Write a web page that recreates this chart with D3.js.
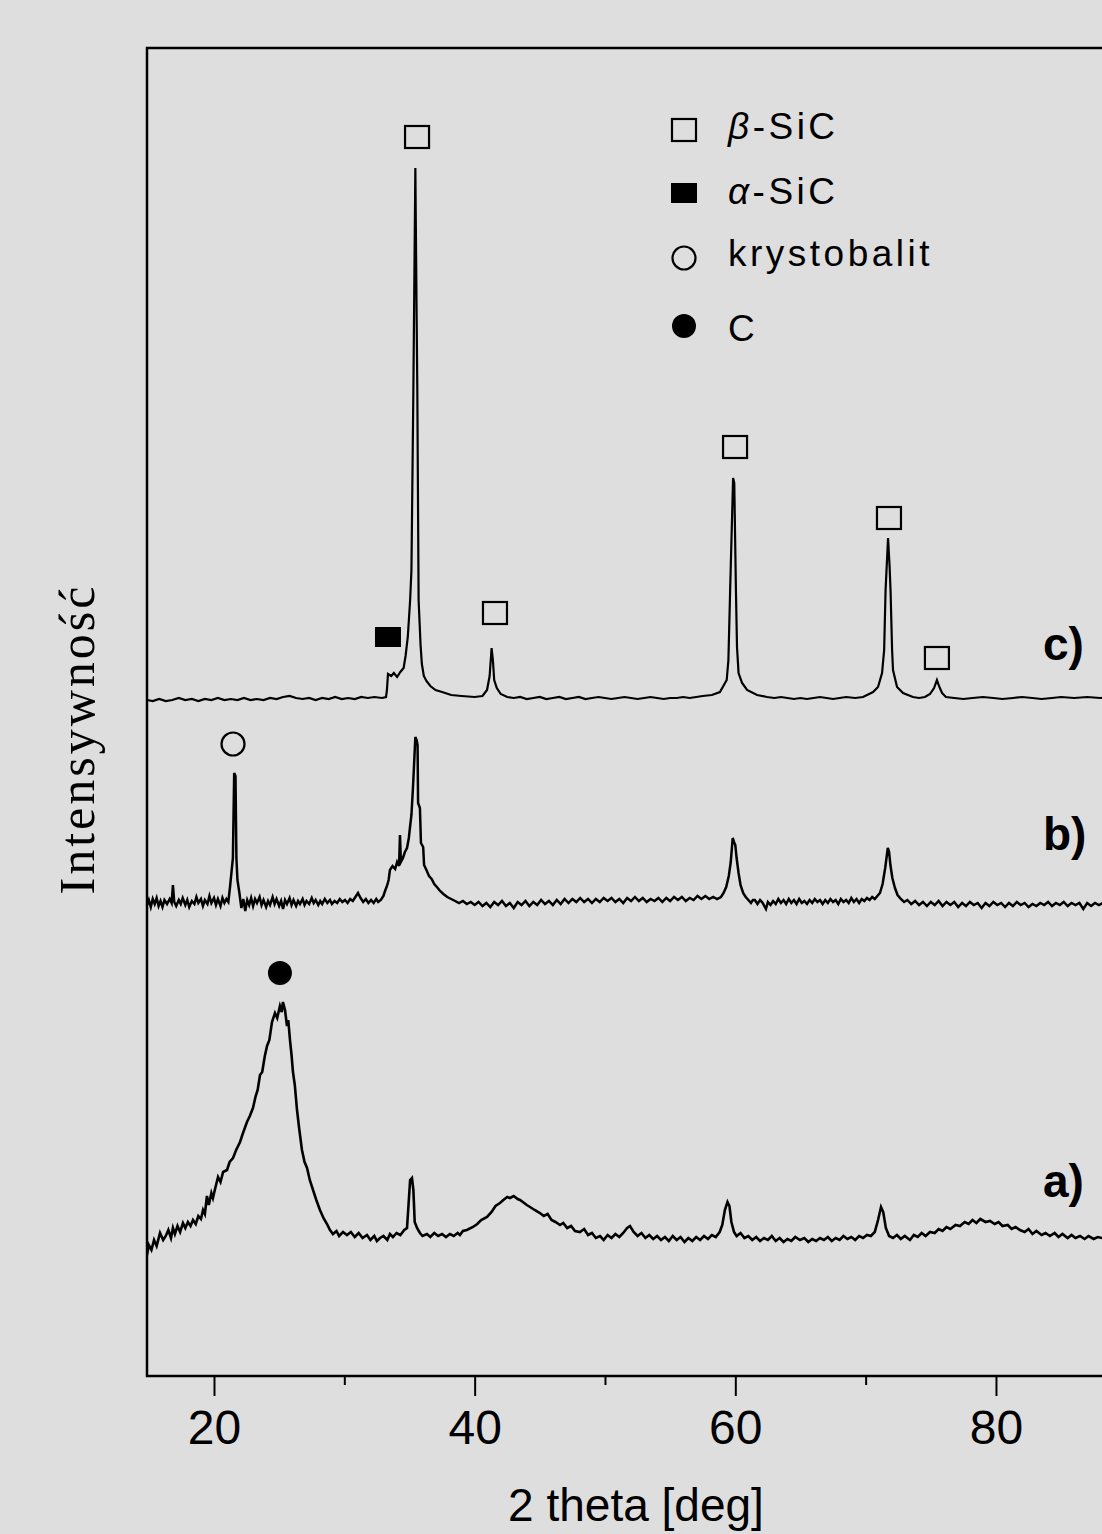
<!DOCTYPE html>
<html><head><meta charset="utf-8">
<script src="https://cdn.jsdelivr.net/npm/d3@7"></script>
<style>html,body{margin:0;padding:0;background:#dedede;}svg{display:block;}</style>
</head><body>
<svg id="chart" width="1102" height="1534"></svg>
<script>
// ---------- data ----------
const xDomain = [14.86, 90];
const yDomain = [0, 1328];
const xTicksMajor = [20, 40, 60, 80];
const xTicksMinor = [30, 50, 70];
const xLabel = "2 theta [deg]";
const yLabel = "Intensywność";
const seriesNames = ["a)", "b)", "c)"];

// pattern a) (2θ, intensity a.u.)
const seriesA = [
[14.86,121],[15.0,131],[15.2,126],[15.4,136],[15.6,130],[15.86,143],[16.1,136],[16.3,140],[16.5,146],[16.7,138],
[16.85,148],[17.0,142],[17.2,150],[17.4,144],[17.62,153],[17.8,148],[18.0,154],[18.2,150],[18.39,156],[18.6,152],
[18.8,160],[19.0,157],[19.16,166],[19.3,162],[19.46,180],[19.6,171],[19.8,183],[19.92,178],[20.1,188],[20.31,199],
[20.5,194],[20.7,204],[21.0,206],[21.2,214],[21.46,218],[21.7,226],[22.0,234],[22.2,242],[22.53,254],[22.75,260],
[22.99,268],[23.2,280],[23.35,286],[23.53,301],[23.7,304],[23.9,320],[24.07,330],[24.25,336],[24.45,354],[24.68,363],
[24.85,358],[25.06,370],[25.2,364],[25.29,374],[25.45,366],[25.6,350],[25.7,356],[25.83,336],[25.95,321],[26.06,304],
[26.2,291],[26.37,266],[26.55,246],[26.75,226],[26.95,214],[27.14,208],[27.35,196],[27.6,186],[27.85,176],[28.13,166],
[28.4,158],[28.67,152],[28.9,146],[29.13,142],[29.4,145],[29.6,140],[29.9,144],[30.2,141],[30.5,144],[30.8,139],
[31.1,143],[31.4,138],[31.74,141],[32.0,136],[32.3,140],[32.5,135],[32.74,138],[33.0,140],[33.3,136],[33.5,142],
[33.73,139],[34.0,143],[34.3,141],[34.6,146],[34.81,148],[34.95,176],[35.05,196],[35.19,198],[35.3,186],[35.4,154],
[35.58,148],[35.8,143],[36.0,140],[36.34,142],[36.6,139],[36.9,143],[37.2,140],[37.5,142],[37.8,139],[38.1,142],
[38.4,140],[38.7,143],[38.87,141],[39.1,145],[39.4,146],[39.87,149],[40.2,152],[40.5,156],[40.95,159],[41.3,164],
[41.6,170],[41.94,173],[42.2,176],[42.5,179],[42.71,178],[43.0,180],[43.3,177],[43.48,176],[43.8,173],[44.0,171],
[44.25,169],[44.6,166],[45.01,163],[45.3,160],[45.6,162],[45.9,156],[46.2,154],[46.55,151],[46.8,153],[47.1,148],
[47.4,150],[47.7,145],[48.08,144],[48.4,147],[48.7,141],[49.0,143],[49.3,138],[49.62,140],[49.9,136],[50.2,141],
[50.5,138],[50.8,142],[51.1,139],[51.4,143],[51.7,148],[51.92,150],[52.2,144],[52.5,140],[52.8,143],[53.1,138],
[53.4,141],[53.7,137],[54.0,140],[54.3,136],[54.6,139],[54.9,135],[55.2,140],[55.5,136],[55.8,139],[56.1,134],
[56.4,138],[56.7,135],[57.0,139],[57.3,136],[57.6,140],[57.9,137],[58.2,141],[58.5,139],[58.8,144],[59.0,151],
[59.2,166],[59.4,174],[59.55,170],[59.7,154],[59.9,144],[60.1,140],[60.4,143],[60.7,138],[61.0,140],[61.3,136],
[61.6,139],[61.9,135],[62.2,138],[62.5,136],[62.8,140],[63.1,135],[63.4,138],[63.7,134],[64.0,137],[64.3,135],
[64.6,139],[64.96,136],[65.3,138],[65.6,134],[65.9,137],[66.2,135],[66.5,138],[66.8,136],[67.1,139],[67.4,135],
[67.7,138],[68.0,136],[68.3,140],[68.6,137],[68.9,139],[69.2,136],[69.5,140],[69.8,138],[70.1,141],[70.4,140],
[70.7,144],[70.95,156],[71.18,169],[71.35,164],[71.55,148],[71.8,140],[72.1,138],[72.4,141],[72.7,137],[73.0,140],
[73.4,136],[73.7,141],[74.0,139],[74.3,143],[74.6,140],[74.94,144],[75.3,143],[75.6,147],[75.9,145],[76.2,149],
[76.5,147],[76.9,151],[77.24,150],[77.6,154],[77.9,152],[78.2,156],[78.5,153],[78.8,157],[79.2,154],[79.54,155],
[79.9,152],[80.2,154],[80.5,150],[80.9,151],[81.2,147],[81.5,149],[81.84,146],[82.2,144],[82.5,147],[82.8,142],
[83.1,145],[83.5,141],[83.8,143],[84.14,140],[84.5,143],[84.8,139],[85.1,142],[85.5,138],[85.8,141],[86.1,138],
[86.45,140],[86.8,137],[87.1,140],[87.5,137],[87.8,139],[88.13,138],[88.5,139],[89.0,138],[89.5,139],[90.0,138]
];

// pattern b)
const seriesB = [
[14.86,471],[15.0,476],[15.15,469],[15.3,477],[15.45,472],[15.6,478],[15.75,470],[15.9,475],[16.05,469],[16.2,476],
[16.4,472],[16.6,477],[16.75,473],[16.85,491],[16.95,474],[17.1,470],[17.3,476],[17.45,472],[17.6,478],[17.8,471],
[17.95,476],[18.1,469],[18.3,475],[18.5,472],[18.65,479],[18.8,473],[19.0,477],[19.15,470],[19.3,476],[19.5,472],
[19.65,480],[19.8,473],[20.0,478],[20.15,471],[20.3,477],[20.5,470],[20.65,478],[20.8,473],[20.95,477],[21.1,474],
[21.23,489],[21.45,518],[21.55,603],[21.65,600],[21.72,518],[21.8,496],[21.95,483],[22.1,468],[22.25,477],[22.4,465],
[22.55,476],[22.7,471],[22.85,478],[23.0,470],[23.15,477],[23.3,473],[23.5,479],[23.65,471],[23.8,476],[24.0,469],
[24.15,475],[24.3,471],[24.5,479],[24.65,472],[24.8,477],[25.0,470],[25.15,475],[25.3,467],[25.45,476],[25.6,472],
[25.8,478],[25.95,471],[26.1,476],[26.3,470],[26.45,475],[26.6,472],[26.8,477],[26.95,471],[27.1,475],[27.3,472],
[27.5,478],[27.65,473],[27.8,476],[28.0,471],[28.15,475],[28.3,472],[28.5,477],[28.7,473],[28.9,476],[29.05,472],
[29.25,475],[29.45,473],[29.65,477],[29.85,474],[30.05,476],[30.25,473],[30.45,477],[30.65,475],[30.85,479],[31.05,483],
[31.25,478],[31.45,474],[31.65,477],[31.85,473],[32.05,476],[32.25,473],[32.45,477],[32.6,474],[32.8,476],[33.0,480],
[33.15,486],[33.27,490],[33.4,496],[33.5,506],[33.7,510],[33.9,507],[34.05,514],[34.2,510],[34.27,541],[34.34,514],
[34.5,518],[34.65,524],[34.81,528],[34.95,538],[35.05,550],[35.15,561],[35.27,589],[35.35,611],[35.45,639],[35.55,636],
[35.62,631],[35.66,573],[35.8,568],[35.88,533],[36.05,529],[36.12,511],[36.3,506],[36.5,500],[36.7,497],[36.9,492],
[37.1,489],[37.35,485],[37.6,482],[37.9,479],[38.2,477],[38.5,475],[38.8,473],[39.1,475],[39.4,472],[39.7,474],
[40.0,471],[40.3,474],[40.6,470],[40.9,473],[41.2,469],[41.5,474],[41.8,471],[42.1,475],[42.4,470],[42.7,473],
[43.0,468],[43.3,474],[43.6,471],[43.9,475],[44.2,470],[44.5,474],[44.8,471],[45.1,476],[45.4,472],[45.7,475],
[46.0,471],[46.3,476],[46.6,472],[46.9,477],[47.2,473],[47.5,477],[47.8,474],[48.1,478],[48.4,474],[48.7,477],
[49.0,473],[49.3,477],[49.6,474],[49.9,478],[50.2,475],[50.5,478],[50.8,474],[51.1,477],[51.4,473],[51.7,478],
[52.0,475],[52.3,479],[52.6,475],[52.9,478],[53.2,474],[53.5,477],[53.8,475],[54.1,478],[54.4,474],[54.7,478],
[55.0,475],[55.3,479],[55.6,476],[55.9,479],[56.2,475],[56.5,478],[56.8,476],[57.1,480],[57.4,477],[57.7,480],
[58.0,477],[58.3,479],[58.6,477],[58.9,479],[59.1,483],[59.3,489],[59.5,500],[59.65,514],[59.8,538],[59.9,534],
[60.0,531],[60.1,518],[60.25,503],[60.4,491],[60.6,483],[60.8,479],[61.0,476],[61.2,473],[61.35,476],[61.5,476],
[61.7,472],[61.9,476],[62.1,473],[62.35,467],[62.5,474],[62.7,471],[62.9,475],[63.1,472],[63.3,477],[63.5,473],
[63.7,476],[63.9,472],[64.1,477],[64.3,473],[64.5,476],[64.7,472],[64.9,477],[65.1,473],[65.3,475],[65.5,472],
[65.7,476],[65.9,473],[66.1,477],[66.3,474],[66.5,476],[66.7,472],[66.9,476],[67.1,473],[67.3,477],[67.5,474],
[67.7,476],[67.9,472],[68.1,477],[68.3,474],[68.5,476],[68.7,473],[68.9,478],[69.1,474],[69.3,477],[69.5,473],
[69.7,477],[69.9,475],[70.1,478],[70.3,476],[70.5,479],[70.7,477],[70.9,480],[71.1,483],[71.3,492],[71.5,508],
[71.7,528],[71.8,524],[71.9,511],[72.05,498],[72.25,488],[72.45,481],[72.7,477],[72.95,474],[73.2,476],[73.5,472],
[73.8,475],[74.1,471],[74.4,474],[74.7,470],[75.0,474],[75.3,471],[75.6,475],[75.9,470],[76.2,474],[76.5,471],
[76.8,474],[77.1,469],[77.4,473],[77.7,470],[78.0,474],[78.3,471],[78.6,473],[78.9,468],[79.2,473],[79.5,470],
[79.8,474],[80.1,471],[80.4,473],[80.7,469],[81.0,473],[81.3,470],[81.6,474],[81.9,471],[82.2,473],[82.5,469],
[82.8,472],[83.1,470],[83.4,473],[83.7,471],[84.0,474],[84.3,470],[84.6,473],[84.9,471],[85.2,474],[85.5,470],
[85.8,473],[86.1,471],[86.4,473],[86.7,467],[87.0,473],[87.3,470],[87.6,473],[87.9,471],[88.2,473],[88.6,471],
[89.0,473],[89.5,471],[90.0,472]
];

// pattern c)
const seriesC = [
[14.86,676],[15.3,675],[15.8,677],[16.3,675],[16.8,676],[17.3,678],[17.8,676],[18.3,677],[18.8,675],[19.3,677],
[19.8,676],[20.3,678],[20.8,676],[21.3,677],[21.8,676],[22.3,678],[22.8,676],[23.3,677],[23.8,676],[24.3,678],
[24.8,677],[25.3,679],[25.8,680],[26.3,678],[26.8,677],[27.3,678],[27.8,676],[28.3,678],[28.8,677],[29.3,679],
[29.8,677],[30.3,678],[30.8,677],[31.3,679],[31.8,678],[32.3,679],[32.9,678],[33.2,679],[33.27,686],[33.35,702],
[33.6,700],[33.8,703],[34.05,699],[34.3,704],[34.55,708],[34.7,720],[34.87,739],[35.05,776],[35.15,806],[35.3,988],
[35.45,1208],[35.55,1058],[35.6,988],[35.7,776],[35.85,731],[35.95,712],[36.1,700],[36.3,695],[36.6,690],[37.0,686],
[37.5,684],[38.2,681],[39.0,680],[40.0,679],[40.6,680],[40.95,686],[41.15,700],[41.3,728],[41.4,716],[41.5,696],
[41.7,688],[42.0,682],[42.5,679],[43.0,678],[43.5,679],[44.0,677],[44.5,678],[45.0,679],[45.5,677],[46.0,678],
[46.5,679],[47.0,677],[47.5,678],[48.0,679],[48.5,677],[49.0,678],[49.5,679],[50.0,678],[50.5,677],[51.0,678],
[51.5,679],[52.0,678],[52.5,677],[53.0,678],[53.5,679],[54.0,678],[54.5,677],[55.0,678],[55.5,678],[56.0,679],
[56.5,678],[57.0,679],[57.5,680],[58.2,681],[58.82,684],[59.34,696],[59.47,716],[59.6,784],[59.83,898],[59.92,893],
[60.05,784],[60.13,729],[60.25,703],[60.52,693],[60.9,686],[61.67,681],[62.43,679],[63.0,678],[63.5,679],[64.0,678],
[64.5,677],[65.0,678],[65.5,677],[66.0,678],[66.5,679],[67.0,678],[67.5,677],[68.0,678],[68.5,679],[69.2,678],
[69.8,679],[70.57,684],[70.95,689],[71.26,703],[71.42,726],[71.53,786],[71.72,838],[71.84,809],[71.91,786],[72.03,726],
[72.1,706],[72.41,689],[72.87,683],[73.63,679],[74.1,678],[74.55,679],[74.94,682],[75.25,688],[75.47,696],[75.63,690],
[75.86,683],[76.16,679],[76.8,678],[77.5,677],[78.2,678],[79.0,679],[79.8,678],[80.5,677],[81.3,678],[82.0,679],
[82.8,678],[83.5,677],[84.3,678],[85.0,679],[86.0,678],[87.0,679],[88.0,678],[89.0,679],[90.0,678]
];

// phase markers placed above peaks (2θ, intensity, phase)
const peakMarkers = [
  {theta:35.58, intensity:1239, phase:"beta"},
  {theta:33.35, intensity:739,  phase:"alpha"},
  {theta:41.56, intensity:763,  phase:"beta"},
  {theta:59.98, intensity:929,  phase:"beta"},
  {theta:71.79, intensity:858,  phase:"beta"},
  {theta:75.47, intensity:718,  phase:"beta"},
  {theta:21.46, intensity:632,  phase:"krys"},
  {theta:25.06, intensity:403,  phase:"carbon"}
];
const legendPhases = ["beta", "alpha", "krys", "carbon"];
const legendTexts = ["-SiC", "-SiC", "krystobalit", "C"];
const legendGreek = ["β", "α", "", ""];

// ---------- drawing ----------
const svg = d3.select("#chart");
svg.append("rect").attr("width",1102).attr("height",1534).attr("fill","#dedede");

const x = d3.scaleLinear().domain(xDomain).range([147, 1126.3]);
const y = d3.scaleLinear().domain(yDomain).range([1376, 48]);

// frame
svg.append("rect")
  .attr("x", x(xDomain[0])).attr("y", y(yDomain[1]))
  .attr("width", x(xDomain[1]) - x(xDomain[0]))
  .attr("height", y(yDomain[0]) - y(yDomain[1]))
  .attr("fill","none").attr("stroke","#000").attr("stroke-width",2.5);

// axes
const gx = svg.append("g").attr("transform", `translate(0,${y(0)})`)
  .call(d3.axisBottom(x).tickValues(xTicksMajor).tickFormat(d3.format("d"))
        .tickSize(20).tickPadding(14).tickSizeOuter(0));
gx.select(".domain").remove();
gx.selectAll("line").attr("stroke","#000").attr("stroke-width",2);
gx.selectAll("text").attr("font-family","'Liberation Sans', Arial, sans-serif")
  .attr("font-size",48).attr("fill","#000");

const gm = svg.append("g").attr("transform", `translate(0,${y(0)})`)
  .call(d3.axisBottom(x).tickValues(xTicksMinor).tickFormat("").tickSize(9).tickSizeOuter(0));
gm.select(".domain").remove();
gm.selectAll("line").attr("stroke","#000").attr("stroke-width",2);

// axis titles
svg.append("text").attr("x", 636).attr("y", 1521).attr("text-anchor","middle")
  .attr("font-family","'Liberation Sans', Arial, sans-serif").attr("font-size",46)
  .attr("fill","#000").text(xLabel);
svg.append("text").attr("transform","translate(94,739) rotate(-90)").attr("text-anchor","middle")
  .attr("font-family","'Liberation Serif', 'Times New Roman', serif").attr("font-size",50)
  .attr("letter-spacing",3).attr("fill","#000").text(yLabel);

// traces
const line = d3.line().x(d => x(d[0])).y(d => y(d[1]));
svg.append("clipPath").attr("id","plotclip").append("rect")
  .attr("x", x(xDomain[0])).attr("y", y(yDomain[1]))
  .attr("width", x(xDomain[1]) - x(xDomain[0])).attr("height", y(0) - y(yDomain[1]));
const gTr = svg.append("g").attr("clip-path","url(#plotclip)");
const traceWidths = [2.6, 2.5, 2.2];
[seriesA, seriesB, seriesC].forEach((s,i) => {
  gTr.append("path").datum(s).attr("d", line).attr("fill","none")
    .attr("stroke","#000").attr("stroke-width",traceWidths[i]).attr("stroke-linejoin","miter");
});

// series labels
const labelY = [1197, 850, 660];
seriesNames.forEach((n,i) => {
  svg.append("text").attr("x",1043).attr("y",labelY[i])
    .attr("font-family","'Liberation Sans', Arial, sans-serif").attr("font-size",46)
    .attr("font-weight","bold").attr("fill","#000").text(n);
});

// marker symbols
function drawMarker(g, cx, cy, phase) {
  if (phase === "beta") {
    g.append("rect").attr("x",cx-12).attr("y",cy-11).attr("width",24).attr("height",22)
      .attr("fill","none").attr("stroke","#000").attr("stroke-width",2.2);
  } else if (phase === "alpha") {
    g.append("rect").attr("x",cx-13).attr("y",cy-10).attr("width",26).attr("height",20).attr("fill","#000");
  } else if (phase === "krys") {
    g.append("circle").attr("cx",cx).attr("cy",cy).attr("r",11.5)
      .attr("fill","none").attr("stroke","#000").attr("stroke-width",2.2);
  } else {
    g.append("circle").attr("cx",cx).attr("cy",cy).attr("r",12).attr("fill","#000");
  }
}
const gM = svg.append("g");
peakMarkers.forEach(m => drawMarker(gM, x(m.theta), y(m.intensity), m.phase));

// legend
const legSymY = [130, 193, 258, 326];
const legTxtY = [139, 204, 266, 341];
const gL = svg.append("g");
legendPhases.forEach((p,i) => {
  drawMarker(gL, 684, legSymY[i], p);
  const t = gL.append("text").attr("x",728).attr("y",legTxtY[i])
    .attr("font-family","'Liberation Sans', Arial, sans-serif").attr("font-size",37)
    .attr("letter-spacing",3.5).attr("fill","#000");
  if (legendGreek[i]) t.append("tspan").attr("font-style","italic").text(legendGreek[i]);
  t.append("tspan").text(legendTexts[i]);
});
</script>
</body></html>
